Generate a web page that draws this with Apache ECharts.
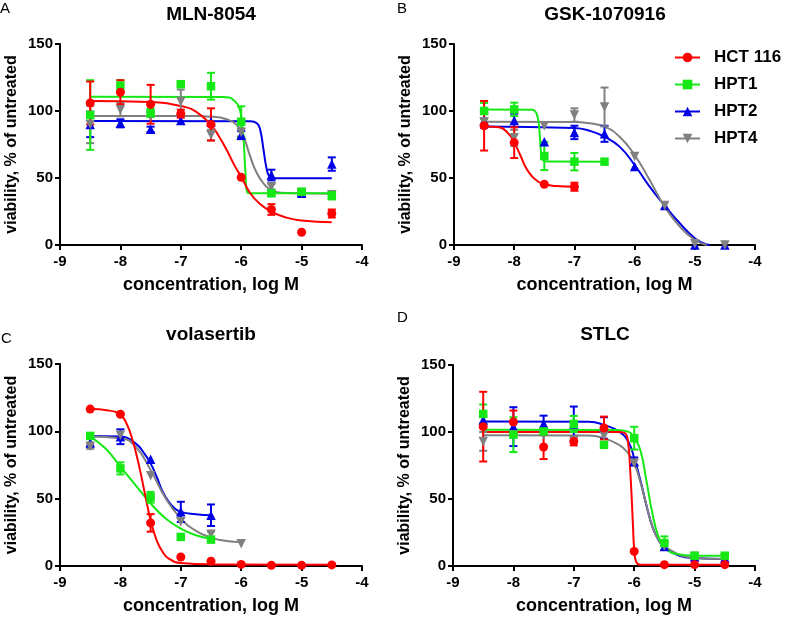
<!DOCTYPE html>
<html><head><meta charset="utf-8">
<script src="https://cdn.jsdelivr.net/npm/echarts@6/dist/echarts.min.js"></script>
<style>html,body{margin:0;padding:0;background:#fff}#c{width:791px;height:618px}</style>
</head><body><div id="c"></div>
<script>
const FONT = '"Liberation Sans", Arial, sans-serif';
const cellLines = ['HCT 116', 'HPT1', 'HPT2', 'HPT4'];
const drugs = ['MLN-8054', 'GSK-1070916', 'volasertib', 'STLC'];
const panelLetters = ['A', 'B', 'C', 'D'];
const xAxisName = 'concentration, log M';
const yAxisName = 'viability, % of untreated';

// doses (log M)
const dosesFull = [-8.5, -8, -7.5, -7, -6.5, -6, -5.5, -5, -4.5];
const doses4 = [-8.5, -8, -7.5, -7];
const doses5 = [-8.5, -8, -7.5, -7, -6.5];
const doses6 = [-8.5, -8, -7.5, -7, -6.5, -6];

// ---- Panel A: MLN-8054 ----
const A_HCT116 = [106, 114, 105, 98, 90, 50.5, 26.5, 9.5, 23.5];
const A_HCT116_sd = [16, 9, 14.5, 3, 12, 0, 4, 0, 3];
const A_HPT1 = [97, 119, 98.5, 120, 118.5, 92, 38.6, 39.8, 37];
const A_HPT1_sd = [26, 4, 3, 2, 10, 11.5, 2, 2, 3];
const A_HPT2 = [90, 90.8, 86.3, 93, 92, 82, 52.2, 38.6, 60.4];
const A_HPT2_sd = [9.5, 3, 2, 0, 0, 3, 4, 2, 5];
const A_HPT4 = [90, 101, 96, 107, 82, 84, 43.5, 39, 37.5];
const A_HPT4_sd = [14, 5, 0, 9, 4, 3, 2, 0, 0];
const A_HCT116_fit = [[-8.5,107.5],[-7.5,106.7],[-7,103.7],[-6.75,99.5],[-6.5,89.6],[-6.35,79.6],[-6.24,70.9],[-6.1,58.5],[-6,51],[-5.85,38.6],[-5.7,31.1],[-5.5,24.9],[-5.25,20.4],[-5,18.2],[-4.5,16.9]];
const A_HPT1_fit = [[-8.5,110.7],[-6.3,110.5],[-6.2,110.1],[-6.13,108.2],[-6.04,103.2],[-5.99,92],[-5.96,78.4],[-5.93,53.5],[-5.91,41],[-5.88,38.7],[-5.8,38.6],[-4.5,38.6]];
const A_HPT2_fit = [[-8.5,92.5],[-5.85,92.3],[-5.74,90.8],[-5.685,85.8],[-5.63,70.9],[-5.586,58.5],[-5.547,52.2],[-5.49,50.2],[-5.4,49.8],[-4.5,49.8]];
const A_HPT4_fit = [[-8.5,96.3],[-6.75,96.2],[-6.51,95.8],[-6.24,93.8],[-6.07,89.6],[-5.96,80.8],[-5.85,65.9],[-5.74,53.5],[-5.63,46],[-5.52,41.5],[-5.35,39],[-5.02,38.6],[-4.5,38.3]];

// ---- Panel B: GSK-1070916 ----
const B_HCT116 = [89, 76.4, 45.3, 43.5];
const B_HCT116_sd = [18.5, 11.5, 0, 3];
const B_HPT1 = [100, 101.2, 66.4, 62.2, 62.2];
const B_HPT1_sd = [6, 5, 10.5, 6.5, 0];
const B_HPT2 = [93, 93, 77, 84, 83, 58.5, 29.4, 0, 0];
const B_HPT2_sd = [5.5, 5, 0, 5, 6, 0, 0, 0, 0];
const B_HPT4 = [92, 80, 89, 97, 103, 66, 29.5, 1, 0];
const B_HPT4_sd = [0, 6, 0, 5, 14.5, 0, 0, 0, 0];
const B_HCT116_fit = [[-8.5,88.5],[-8.25,87.8],[-8.1,83.3],[-8,76.4],[-7.9,67.2],[-7.8,57.2],[-7.7,51],[-7.6,47.3],[-7.5,45.3],[-7.3,44],[-7,43.5]];
const B_HPT1_fit = [[-8.5,101.2],[-7.7,101],[-7.64,99],[-7.6,93],[-7.58,85],[-7.56,72],[-7.54,65],[-7.5,62.7],[-7.4,62.3],[-6.5,62.2]];
const B_HPT2_fit = [[-8.5,88.5],[-7,87.3],[-6.75,85.3],[-6.5,80.8],[-6.25,73.4],[-6,59.7],[-5.75,43.5],[-5.5,29.4],[-5.25,16.2],[-5,5],[-4.85,1.2],[-4.75,0]];
const B_HPT4_fit = [[-8.5,92],[-7,91.8],[-6.75,90.8],[-6.5,88.3],[-6.25,80.8],[-6,67.2],[-5.75,48.5],[-5.5,28.6],[-5.25,13.7],[-5,3.7],[-4.8,0]];

// ---- Panel C: volasertib ----
const C_HCT116 = [116.5, 112.7, 32, 6.7, 3.5, 1.2, 0.5, 0.5, 0.8];
const C_HCT116_sd = [0, 0, 6.5, 0, 0, 0, 0, 0, 0];
const C_HPT1 = [96.6, 72.5, 51, 21.6, 19.6];
const C_HPT1_sd = [0, 4.5, 4, 0, 0];
const C_HPT2 = [91.6, 96, 79.2, 40.2, 37.7];
const C_HPT2_sd = [3, 5.5, 0, 7.5, 8];
const C_HPT4 = [89, 97, 67, 32.8, 23.6, 16.6];
const C_HPT4_sd = [2, 0, 0, 0, 2, 0];
const C_HCT116_fit = [[-8.5,116.5],[-8.2,115.5],[-8,112.2],[-7.9,106],[-7.8,93.6],[-7.7,76.2],[-7.6,55],[-7.5,34],[-7.4,19.1],[-7.3,10.4],[-7.2,5.5],[-7,2.2],[-6.5,1.2],[-4.5,1]];
const C_HPT1_fit = [[-8.5,96.1],[-8.25,87.4],[-8,73.8],[-7.75,60.1],[-7.5,46.4],[-7.25,35.3],[-7,27.8],[-6.75,22.8],[-6.5,20.1]];
const C_HPT2_fit = [[-8.5,96.6],[-8,96.1],[-7.75,91.1],[-7.6,83.2],[-7.5,76.2],[-7.4,66.3],[-7.3,55.1],[-7.2,47.7],[-7.1,42.7],[-7,40.2],[-6.75,38.5],[-6.5,37.7]];
const C_HPT4_fit = [[-8.5,96.1],[-8,94.9],[-7.75,88.7],[-7.5,71.3],[-7.25,50.2],[-7,35.3],[-6.75,26.1],[-6.5,21.1],[-6.25,18.6],[-6,17.9]];

// ---- Panel D: STLC ----
const D_HCT116 = [104, 107.5, 88.8, 93, 103, 10.9, 1, 1, 1];
const D_HCT116_sd = [26, 8.5, 9, 3, 8.5, 0, 0, 0, 0];
const D_HPT1 = [113.5, 98, 100.4, 106, 90.4, 95.4, 17.1, 7.7, 7.7];
const D_HPT1_sd = [7, 13, 0, 6, 0, 8.5, 5, 0, 0];
const D_HPT2 = [109, 104, 106.2, 106, 103, 78, 14.6, 6.7, 6];
const D_HPT2_sd = [3, 14.5, 6, 13, 8, 3, 0, 0, 0];
const D_HPT4 = [93, 98, 97.8, 94, 97, 76.7, 15, 7, 6];
const D_HPT4_sd = [7, 0, 0, 0, 0, 0, 0, 0, 0];
const D_HCT116_fit = [[-8.5,100],[-6.25,100],[-6.15,99],[-6.1,91.6],[-6.07,74.2],[-6.04,49.4],[-6.02,29.5],[-6,12.2],[-5.97,3.5],[-5.9,1],[-4.5,1]];
const D_HPT1_fit = [[-8.5,101.6],[-6.3,101.5],[-6.1,100.3],[-6,95.4],[-5.9,86.7],[-5.8,64.3],[-5.7,39.5],[-5.6,22.1],[-5.5,14.2],[-5.3,8.9],[-5,7.7],[-4.5,7.7]];
const D_HPT2_fit = [[-8.5,107.8],[-6.75,107.6],[-6.5,105.3],[-6.25,100.3],[-6.1,92.9],[-6,80.5],[-5.9,64.3],[-5.8,45.7],[-5.7,29.5],[-5.6,19.6],[-5.5,14.2],[-5.25,7.7],[-5,6],[-4.5,5.2]];
const D_HPT4_fit = [[-8.5,97.6],[-6.75,97.4],[-6.5,95.4],[-6.25,90.4],[-6.1,84.2],[-6,76.7],[-5.9,63.1],[-5.8,45.7],[-5.7,29.5],[-5.6,19.6],[-5.5,14.2],[-5,6],[-4.5,5.2]];

// ---- styling ----
const colors = {'HCT 116': '#ff0000', 'HPT1': '#16e816', 'HPT2': '#0000e6', 'HPT4': '#808080'};
const symbols = {'HCT 116': 'circle', 'HPT1': 'rect', 'HPT2': 'triangle', 'HPT4': 'path://M0,0L10,0L5,10Z'};
const symSizes = {'HCT 116': 9, 'HPT1': 8.5, 'HPT2': 9.5, 'HPT4': 9.5};

const panels = [
  {sets: {'HCT 116': [dosesFull, A_HCT116, A_HCT116_sd, A_HCT116_fit], 'HPT1': [dosesFull, A_HPT1, A_HPT1_sd, A_HPT1_fit], 'HPT2': [dosesFull, A_HPT2, A_HPT2_sd, A_HPT2_fit], 'HPT4': [dosesFull, A_HPT4, A_HPT4_sd, A_HPT4_fit]}},
  {sets: {'HCT 116': [doses4, B_HCT116, B_HCT116_sd, B_HCT116_fit], 'HPT1': [doses5, B_HPT1, B_HPT1_sd, B_HPT1_fit], 'HPT2': [dosesFull, B_HPT2, B_HPT2_sd, B_HPT2_fit], 'HPT4': [dosesFull, B_HPT4, B_HPT4_sd, B_HPT4_fit]}},
  {sets: {'HCT 116': [dosesFull, C_HCT116, C_HCT116_sd, C_HCT116_fit], 'HPT1': [doses5, C_HPT1, C_HPT1_sd, C_HPT1_fit], 'HPT2': [doses5, C_HPT2, C_HPT2_sd, C_HPT2_fit], 'HPT4': [doses6, C_HPT4, C_HPT4_sd, C_HPT4_fit]}},
  {sets: {'HCT 116': [dosesFull, D_HCT116, D_HCT116_sd, D_HCT116_fit], 'HPT1': [dosesFull, D_HPT1, D_HPT1_sd, D_HPT1_fit], 'HPT2': [dosesFull, D_HPT2, D_HPT2_sd, D_HPT2_fit], 'HPT4': [dosesFull, D_HPT4, D_HPT4_sd, D_HPT4_fit]}}
];

const gridBoxes = [
  {left: 60, top: 44, width: 302, height: 201},
  {left: 454, top: 44, width: 301, height: 201},
  {left: 60, top: 364, width: 302, height: 202},
  {left: 453, top: 365, width: 302, height: 201}
];
const titlePos = [[211, 15], [605, 15], [211, 335], [605, 335]];
const letterPos = [[0, 9], [397, 9], [1, 339], [397, 318]];

function renderErr(params, api) {
  const x = api.value(0), lo = api.value(1), hi = api.value(2);
  const pLo = api.coord([x, lo]), pHi = api.coord([x, hi]);
  const hw = 4;
  const st = {stroke: api.visual('color'), lineWidth: 2};
  return {type: 'group', children: [
    {type: 'line', shape: {x1: pLo[0], y1: pLo[1], x2: pHi[0], y2: pHi[1]}, style: st},
    {type: 'line', shape: {x1: pLo[0] - hw, y1: pLo[1], x2: pLo[0] + hw, y2: pLo[1]}, style: st},
    {type: 'line', shape: {x1: pHi[0] - hw, y1: pHi[1], x2: pHi[0] + hw, y2: pHi[1]}, style: st}
  ]};
}

const grid = [], xAxis = [], yAxis = [], series = [], graphic = [];

// legend-only series (first, so the legend takes its icon from them)
cellLines.forEach(n => {
  series.push({type: 'line', name: n, data: [], xAxisIndex: 1, yAxisIndex: 1,
    symbol: symbols[n], symbolSize: 10, itemStyle: {color: colors[n]},
    lineStyle: {color: colors[n], width: 2}});
});

const drawOrder = ['HPT2', 'HPT4', 'HPT1', 'HCT 116'];
panels.forEach((p, i) => {
  grid.push(Object.assign({containLabel: false}, gridBoxes[i]));
  xAxis.push({gridIndex: i, type: 'value', min: -9, max: -4, interval: 1,
    name: xAxisName, nameLocation: 'middle', nameGap: 31,
    nameTextStyle: {fontFamily: FONT, fontSize: 18, fontWeight: 'bold', color: '#000'},
    axisLine: {onZero: false, lineStyle: {color: '#000', width: 2}},
    axisTick: {length: 5, lineStyle: {color: '#000', width: 2}},
    axisLabel: {fontFamily: FONT, fontSize: 15, fontWeight: 'bold', color: '#000', margin: 9},
    splitLine: {show: false}});
  yAxis.push({gridIndex: i, type: 'value', min: 0, max: 150, interval: 50,
    name: yAxisName, nameLocation: 'middle', nameGap: 40,
    nameTextStyle: {fontFamily: FONT, fontSize: 16, fontWeight: 'bold', color: '#000'},
    axisLine: {show: true, onZero: false, lineStyle: {color: '#000', width: 2}},
    axisTick: {show: true, length: 5, lineStyle: {color: '#000', width: 2}},
    axisLabel: {fontFamily: FONT, fontSize: 15, fontWeight: 'bold', color: '#000', margin: 7},
    splitLine: {show: false}});

  drawOrder.forEach(n => {
    const [xs, mean, sd, fit] = p.sets[n];
    const c = colors[n];
    series.push({type: 'line', name: n + ' fit ' + i, xAxisIndex: i, yAxisIndex: i,
      data: fit, showSymbol: false, symbol: 'none', smooth: 0.5,
      lineStyle: {color: c, width: 2}, silent: true, animation: false, z: 2});
    const err = [];
    xs.forEach((x, k) => { if (sd[k] > 0) err.push([x, mean[k] - sd[k], mean[k] + sd[k]]); });
    series.push({type: 'custom', name: n + ' err ' + i, xAxisIndex: i, yAxisIndex: i,
      data: err, renderItem: renderErr, itemStyle: {color: c}, silent: true, animation: false, z: 3});
    series.push({type: 'scatter', name: n + ' pts ' + i, xAxisIndex: i, yAxisIndex: i,
      data: xs.map((x, k) => [x, mean[k]]), symbol: symbols[n], symbolSize: symSizes[n],
      itemStyle: {color: c, opacity: 1}, silent: true, animation: false, z: 4});
  });

  graphic.push({type: 'text', x: titlePos[i][0], y: titlePos[i][1],
    style: {text: drugs[i], font: 'bold 19px ' + FONT, fill: '#000', align: 'center', verticalAlign: 'middle', textAlign: 'center', textVerticalAlign: 'middle'}});
  graphic.push({type: 'text', x: letterPos[i][0], y: letterPos[i][1],
    style: {text: panelLetters[i], font: '15px ' + FONT, fill: '#000', align: 'left', verticalAlign: 'middle', textAlign: 'left', textVerticalAlign: 'middle'}});
});

const chart = echarts.init(document.getElementById('c'), null, {renderer: 'canvas'});
chart.setOption({
  animation: false,
  backgroundColor: '#fff',
  grid, xAxis, yAxis, series, graphic,
  legend: {data: cellLines, orient: 'vertical', left: 674, top: 49, padding: 0,
    itemWidth: 25, itemHeight: 12, itemGap: 10, selectedMode: false,
    textStyle: {fontFamily: FONT, fontSize: 17, fontWeight: 'bold', color: '#000', padding: [0, 0, 0, 9]}}
});
</script>
</body></html>
